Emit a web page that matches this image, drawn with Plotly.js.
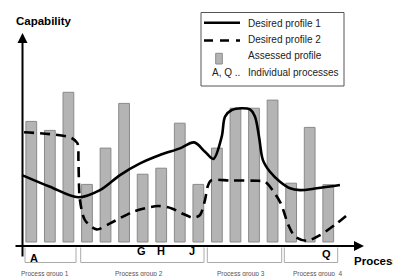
<!DOCTYPE html>
<html>
<head>
<meta charset="utf-8">
<script src="https://cdn.plot.ly/plotly-3.0.1.min.js"></script>
<style>html,body{margin:0;padding:0;background:#fff;}#chart{width:393px;height:276px;}</style>
</head>
<body>
<div id="chart"></div>
<script>
// ---- data ----
const processIndex = [1,2,3,4,5,6,7,8,9,10,11,12,13,14,15,16,17];
const assessedProfile = [4.02,3.72,4.99,1.92,3.13,4.62,2.26,2.46,3.96,1.92,3.13,4.46,4.46,4.73,1.96,3.82,1.91];

const desired1X = [0.50,2.01,3.53,4.70,5.78,6.86,7.93,9.01,9.77,10.36,10.81,11.26,11.44,11.80,12.34,12.78,13.05,13.27,13.48,13.86,14.40,14.94,15.48,16.38,17.63];
const desired1Y = [2.23,1.84,1.49,1.73,2.23,2.62,2.90,3.12,3.32,3.01,2.77,3.51,4.18,4.40,4.46,4.42,4.18,3.51,2.73,2.34,2.01,1.79,1.73,1.79,1.90];

const desired2X = [0.61,3.09,3.48,3.54,3.57,3.62,3.89,4.52,5.24,6.50,7.83,8.57,9.10,9.73,10.09,10.36,10.50,10.68,11.71,13.21,13.59,14.40,14.85,15.21,15.84,16.56,17.46,18.13];
const desired2Y = [3.66,3.49,3.30,2.73,1.90,1.40,0.73,0.42,0.62,1.01,1.20,1.12,0.96,0.81,0.90,1.40,1.84,2.05,2.05,2.04,2.01,1.34,0.57,0.18,0.04,0.23,0.62,0.96];

const legendLabels = ['Desired profile 1','Desired profile 2','Assessed profile','Individual processes'];
const letterLabels = ['A','G','H','J','Q'];
const groupLabels = ['Process group 1','Process group 2','Process group 3','Process group  4'];
const yTitle = 'Capability';
const xTitle = 'Processes';

// ---- helpers (pixel -> paper) ----
const W = 393, H = 276;
const px = x => x / W;
const py = y => 1 - y / H;
const FONT = 'Liberation Sans, Arial, sans-serif';

const traces = [
  {type:'bar', x: processIndex, y: assessedProfile, width: 0.58,
   marker:{color:'#b4b4b4', line:{color:'#8a8a8a', width:1}}, hoverinfo:'skip', showlegend:false},
  {type:'scatter', mode:'lines', x: desired1X, y: desired1Y,
   line:{color:'#000', width:2.6, shape:'spline', smoothing:0.9}, hoverinfo:'skip', showlegend:false},
  {type:'scatter', mode:'lines', x: desired2X, y: desired2Y,
   line:{color:'#000', width:2.6, shape:'spline', smoothing:0.8, dash:'10px,6px'}, hoverinfo:'skip', showlegend:false}
];

const shapes = [];
const annotations = [];

// legend box
shapes.push({type:'rect', xref:'paper', yref:'paper', x0:px(201), x1:px(344), y0:py(86), y1:py(12.5),
  line:{color:'#555', width:1}, fillcolor:'rgba(255,255,255,1)'});
shapes.push({type:'line', xref:'paper', yref:'paper', x0:px(204), x1:px(240), y0:py(22.7), y1:py(22.7),
  line:{color:'#000', width:2.6}});
shapes.push({type:'line', xref:'paper', yref:'paper', x0:px(204), x1:px(240), y0:py(40.5), y1:py(40.5),
  line:{color:'#000', width:2.6, dash:'9px,7px'}});
shapes.push({type:'rect', xref:'paper', yref:'paper', x0:px(215.7), x1:px(222.3), y0:py(64), y1:py(53.3),
  line:{color:'#8a8a8a', width:1}, fillcolor:'#b4b4b4'});
const legY = [23.3, 40, 55.7, 72.3];
legendLabels.forEach((t,i)=>{
  annotations.push({xref:'paper', yref:'paper', x:px(246), y:py(legY[i]), xanchor:'left', yanchor:'middle',
    text:t, showarrow:false, font:{family:FONT, size:10, color:'#222'}});
});
annotations.push({xref:'paper', yref:'paper', x:px(242), y:py(72.3), xanchor:'right', yanchor:'middle',
  text:'A, Q ..', showarrow:false, font:{family:FONT, size:10, color:'#222'}});

// group brackets
const groupSpans = [[25,76],[80.7,204],[207.3,281.7],[284.3,337.7]];
groupSpans.forEach(([a,b])=>{
  shapes.push({type:'path', xref:'paper', yref:'paper',
    path:`M${px(a)},${py(247.5)} L${px(a)},${py(262.5)} L${px(b)},${py(262.5)} L${px(b)},${py(247.5)}`,
    line:{color:'#aaaaaa', width:1}});
});
const groupCenters = [44.5, 139, 241, 318];
groupLabels.forEach((t,i)=>{
  annotations.push({xref:'paper', yref:'paper', x:px(groupCenters[i]), y:py(273.5), xanchor:'center', yanchor:'middle',
    text:t, showarrow:false, font:{family:FONT, size:6.5, color:'#555'}});
});

// process letters
const letterPos = [[33.7,257.7],[141.5,251],[161,251],[191.7,251],[326.3,253.7]];
letterLabels.forEach((t,i)=>{
  annotations.push({xref:'paper', yref:'paper', x:px(letterPos[i][0]), y:py(letterPos[i][1]), xanchor:'center', yanchor:'middle',
    text:t, showarrow:false, font:{family:FONT, size:11, color:'#000', weight:'bold'}});
});

// axis titles
annotations.push({xref:'paper', yref:'paper', x:px(44), y:py(20.5), xanchor:'center', yanchor:'middle',
  text:yTitle, showarrow:false, font:{family:FONT, size:11.5, color:'#000', weight:'bold'}});
annotations.push({xref:'paper', yref:'paper', x:px(351.5), y:py(260.5), xanchor:'left', yanchor:'middle',
  text:xTitle, showarrow:false, font:{family:FONT, size:11.5, color:'#000', weight:'bold'}});

// axis arrows
annotations.push({xref:'paper', yref:'paper', x:px(22.5), y:py(33), ax:0, ay:258-33, axref:'pixel', ayref:'pixel',
  text:'', showarrow:true, arrowhead:2, arrowsize:1, arrowwidth:2, arrowcolor:'#000'});
annotations.push({xref:'paper', yref:'paper', x:px(364), y:py(246), ax:14-364, ay:0, axref:'pixel', ayref:'pixel',
  text:'', showarrow:true, arrowhead:2, arrowsize:1, arrowwidth:2, arrowcolor:'#000'});

const layout = {
  width: W, height: H,
  margin:{l:0, r:0, t:0, b:0, pad:0},
  paper_bgcolor:'#fff', plot_bgcolor:'#fff',
  showlegend:false,
  hovermode:false,
  xaxis:{range:[-0.686, 20.489], showgrid:false, zeroline:false, showline:false, showticklabels:false, ticks:'', fixedrange:true},
  yaxis:{range:[-34/30, 242/30], showgrid:false, zeroline:false, showline:false, showticklabels:false, ticks:'', fixedrange:true},
  shapes: shapes,
  annotations: annotations
};

Plotly.newPlot('chart', traces, layout, {staticPlot:true, displayModeBar:false});
</script>
</body>
</html>
